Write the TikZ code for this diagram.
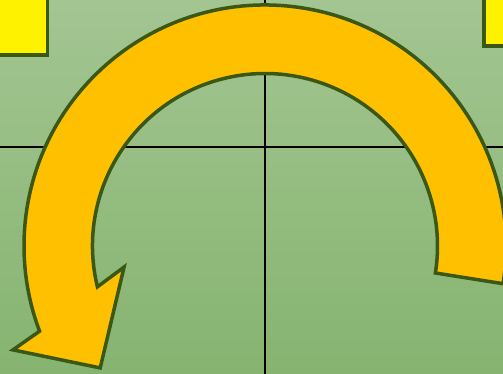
\documentclass[tikz,border=0pt]{standalone}
\usepackage{tikz}
\usetikzlibrary{positioning}
\definecolor{bgtop}{RGB}{163,197,146}
\definecolor{bgbot}{RGB}{134,180,112}
\definecolor{edge}{RGB}{58,88,18}
\definecolor{amber}{RGB}{255,192,0}
\tikzstyle{axis}=[draw=black,line width=2pt]
\tikzstyle{square}=[draw=edge,fill=yellow,line width=3.5pt,rectangle,minimum size=120pt,inner sep=0pt]
\tikzstyle{bigarrow}=[draw=edge,fill=amber,line width=3.5pt,line join=miter]

\begin{document}
\begin{tikzpicture}[x=1pt,y=1pt]
    \useasboundingbox (0,0) rectangle (503,374);
    \clip (0,0) rectangle (503,374);
    \shade[top color=bgtop,bottom color=bgbot] (0,0) rectangle (503,374);
    % axes
    \coordinate (up) at (265,374);
    \coordinate (down) at (265,0);
    \coordinate (left) at (0,227);
    \coordinate (right) at (503,227);
    \draw[axis] (down) -- (up);
    \draw[axis] (left) -- (right);
    % corner squares
    \node[square, anchor=south east] (sqL) at (49,317) {};
    \node[square, anchor=south west] (sqR) at (482,326) {};
    % circular arrow
    \coordinate (c) at (265,128);
    \begin{scope}[shift={(c)}]
        \draw[bigarrow] (-9:241) arc[start angle=-9, end angle=200.7, radius=241]
            -- (202.4:272.6) -- (216.5:205) -- (188.5:142.5) -- (193.7:172.5)
            arc[start angle=193.7, end angle=-9, radius=172.5] -- cycle;
    \end{scope}
\end{tikzpicture}
\end{document}
